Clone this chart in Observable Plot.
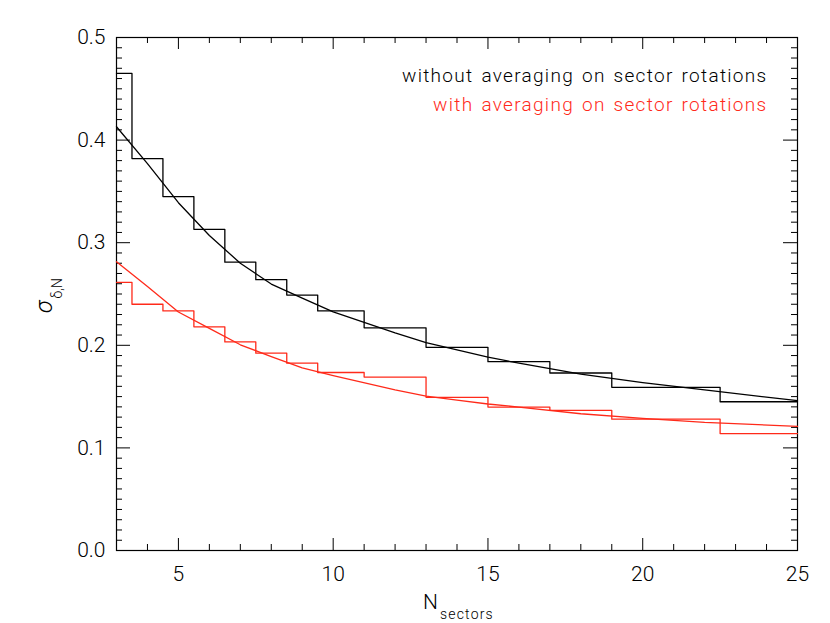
<!DOCTYPE html>
<html><head><meta charset="utf-8">
<script src="https://cdn.jsdelivr.net/npm/d3@7"></script>
<script src="https://cdn.jsdelivr.net/npm/@observablehq/plot@0.6"></script>
<style>
body{margin:0;background:#fff}
svg{display:block}
svg text{font-weight:300}
</style>
</head><body><div id="chart"></div>
<script>
// ---- data ----
const nSectors = [3,4,5,6,7,8,9,10,12,14,16,18,20,25];
const stepWithout = [0.465,0.382,0.345,0.313,0.281,0.264,0.249,0.2335,0.217,0.198,0.184,0.173,0.159,0.145];
const stepWith    = [0.2614,0.240,0.2335,0.218,0.2033,0.1923,0.1826,0.1735,0.169,0.1493,0.1398,0.1365,0.128,0.114];
const curveN       = [3,4,5,6,7,8,9,10,12,13,14,15,16,18,20,22,25];
const curveWithout = [0.413,0.377,0.339,0.307,0.280,0.2597,0.246,0.2325,0.212,0.2027,0.1955,0.1884,0.1826,0.172,0.1637,0.1566,0.146];
const curveWith    = [0.2815,0.2572,0.2325,0.2165,0.2005,0.189,0.178,0.1705,0.1565,0.1505,0.1465,0.1428,0.1398,0.1333,0.1287,0.1248,0.121];
const xMajorTicks = [5,10,15,20,25];
const yMajorTicks = [0,0.1,0.2,0.3,0.4,0.5];
const legendLabels = ["without averaging on sector rotations","with averaging on sector rotations"];

const RED = "#ff2a1a";
const W = 830, H = 623, ML = 116, MR = 33, MT = 37, MB = 73;
const PW = W - ML - MR, PH = H - MT - MB;

function steps(ns, vs){
  const out = [];
  const last = ns.length - 1;
  ns.forEach((n,i) => {
    const lo = i === 0 ? n : (ns[i-1] + n) / 2;
    const hi = i === last ? n : (n + ns[i+1]) / 2;
    out.push({x: lo, y: vs[i]}, {x: hi, y: vs[i]});
  });
  return out;
}
const sWithout = steps(nSectors, stepWithout);
const sWith = steps(nSectors, stepWith);
const cWithout = curveN.map((n,i) => ({x:n, y:curveWithout[i]}));
const cWith = curveN.map((n,i) => ({x:n, y:curveWith[i]}));

const xMinor = d3.range(4, 25).filter(v => v % 5 !== 0);
const yMinor = d3.range(1, 50).filter(v => v % 10 !== 0).map(v => v / 100);

const FONT = "Roboto, 'DejaVu Sans', sans-serif";

const chart = Plot.plot({
  width: W, height: H,
  marginLeft: ML, marginRight: MR, marginTop: MT, marginBottom: MB,
  style: {fontFamily: FONT, background: "#fff", color: "#000"},
  x: {domain: [3,25]},
  y: {domain: [0,0.5]},
  marks: [
    Plot.frame({stroke: "#000", strokeWidth: 1.2}),
    // inward ticks: bottom / top
    Plot.ruleX(xMajorTicks, {x: d => d, insetTop: PH - 12, stroke: "#000"}),
    Plot.ruleX(xMinor, {x: d => d, insetTop: PH - 6, stroke: "#000"}),
    Plot.ruleX(xMajorTicks, {x: d => d, insetBottom: PH - 12, stroke: "#000"}),
    Plot.ruleX(xMinor, {x: d => d, insetBottom: PH - 6, stroke: "#000"}),
    // inward ticks: left / right
    Plot.ruleY(yMajorTicks, {y: d => d, insetRight: PW - 14, stroke: "#000"}),
    Plot.ruleY(yMinor, {y: d => d, insetRight: PW - 6, stroke: "#000"}),
    Plot.ruleY(yMajorTicks, {y: d => d, insetLeft: PW - 14, stroke: "#000"}),
    Plot.ruleY(yMinor, {y: d => d, insetLeft: PW - 6, stroke: "#000"}),
    Plot.axisX({ticks: xMajorTicks, tickSize: 0, tickPadding: 16, fontSize: 21, label: null}),
    Plot.axisY({ticks: yMajorTicks, tickFormat: d3.format(".1f"), tickSize: 0, tickPadding: 11, fontSize: 21, label: null}),
    Plot.line(sWithout, {x: "x", y: "y", stroke: "#000", strokeWidth: 1.3}),
    Plot.line(sWith, {x: "x", y: "y", stroke: RED, strokeWidth: 1.3}),
    Plot.line(cWithout, {x: "x", y: "y", stroke: "#000", strokeWidth: 1.3}),
    Plot.line(cWith, {x: "x", y: "y", stroke: RED, strokeWidth: 1.3}),
    Plot.text([legendLabels[0]], {text: d => d, frameAnchor: "top-right", textAnchor: "end", dx: -30, dy: 31, fill: "#000", fontSize: 19}),
    Plot.text([legendLabels[1]], {text: d => d, frameAnchor: "top-right", textAnchor: "end", dx: -30, dy: 60, fill: RED, fontSize: 19})
  ]
});

const svg = d3.select(chart);
svg.selectAll("text")
  .filter(function(){ return legendLabels.includes(this.textContent); })
  .style("letter-spacing", "1.3px")
  .style("word-spacing", "2px");
// y axis title: sigma_{delta,N}
const yl = svg.append("text")
  .attr("transform", "translate(52,313) rotate(-90)")
  .attr("text-anchor", "start")
  .attr("font-family", FONT).attr("fill", "#000");
yl.append("tspan").attr("font-size", 23).attr("font-style", "italic").text("σ");
yl.append("tspan").attr("font-size", 14).attr("dy", 10).attr("dx", 2).text("δ,N");
// x axis title: N_sectors
const xl = svg.append("text")
  .attr("x", 423).attr("y", 609)
  .attr("text-anchor", "start")
  .attr("font-family", FONT).attr("fill", "#000");
xl.append("tspan").attr("font-size", 21).text("N");
xl.append("tspan").attr("font-size", 14).attr("dy", 10).attr("dx", 2).attr("letter-spacing", "1.2px").text("sectors");

document.getElementById("chart").appendChild(chart);
</script>
</body></html>
